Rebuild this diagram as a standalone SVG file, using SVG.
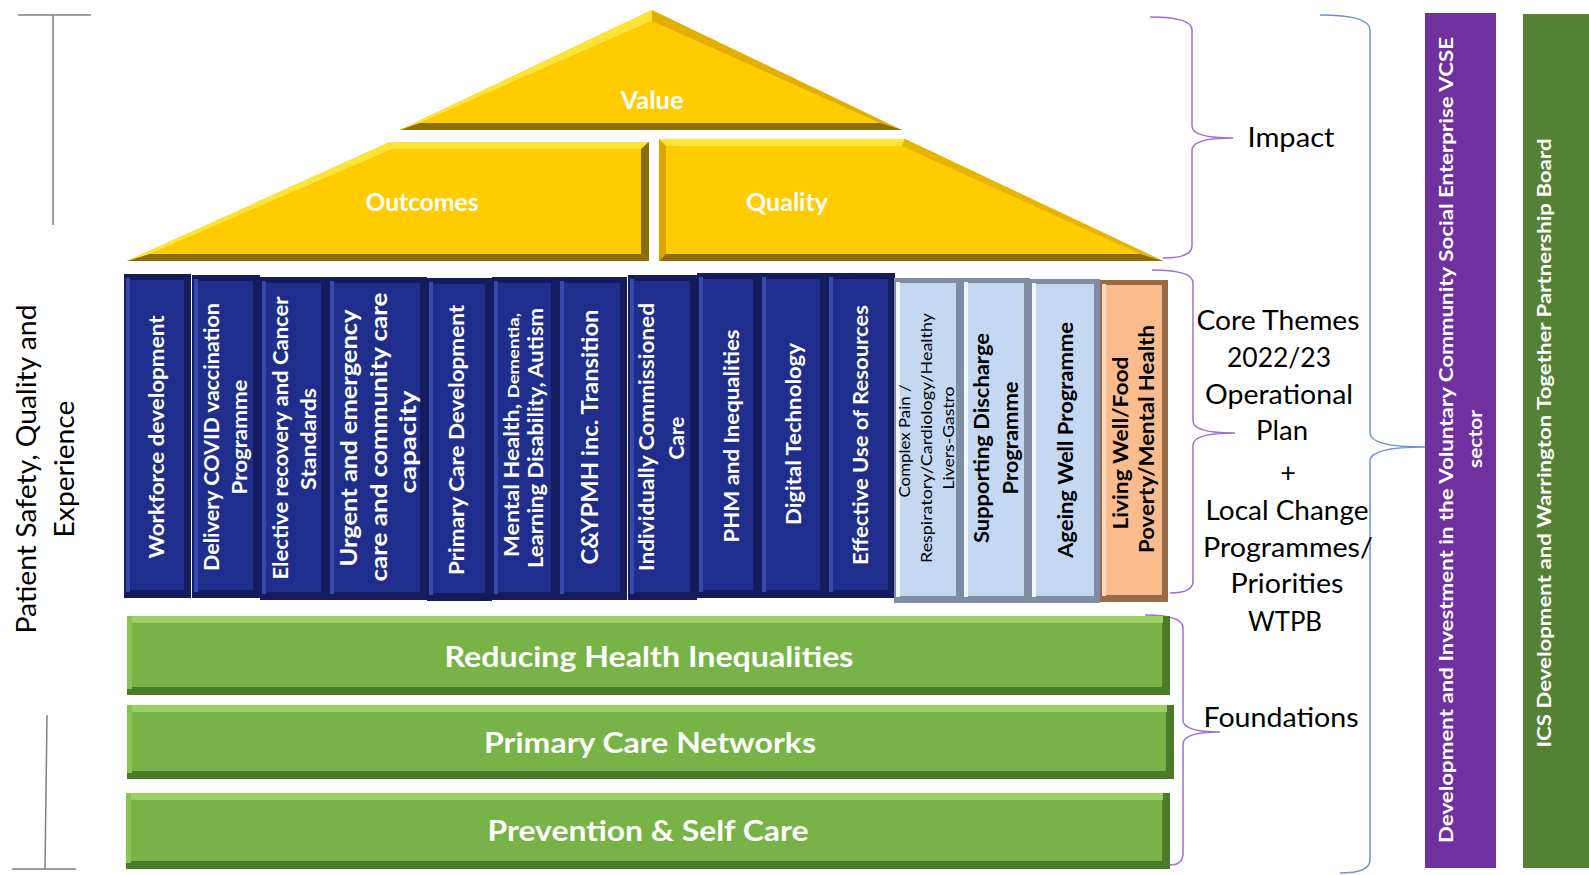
<svg xmlns="http://www.w3.org/2000/svg" width="1589" height="875" viewBox="0 0 1589 875">
<style>
.t{font-family:Lato,"Liberation Sans",sans-serif;text-anchor:middle}
.w{fill:#fff;font-weight:700}
.k{fill:#000;font-weight:700}
.r{fill:#000;font-weight:400}
.bE{fill:#141C5E}.bH{fill:#3748AE}.bF{fill:#1F2E8C}
.lE{fill:#7F8DA3}.lH{fill:#F2F7FD}.lF{fill:#C5D8F2}
.oE{fill:#9A6A47}.oH{fill:#FFDCC0}.oF{fill:#FABC8C}
.gE{fill:#4B7B28}.gT{fill:#9CCF64}.gL{fill:#8AC256}.gF{fill:#77B347}
.yL{fill:#FFE436}.yD{fill:#8C6C0C}.yG{fill:#E3AE00}.yF{fill:#FFCC00}
.br{fill:none;stroke:#A070D0;stroke-width:1.5}
.bb{fill:none;stroke:#6B92DC;stroke-width:1.5}
.ln{fill:none;stroke:#808080;stroke-width:1.5}
</style>

<g id="connectors">
<path class="ln" d="M18,15 H91 M53,15 V225"/>
<path class="ln" d="M47,715 L45,869 M12,869 H76"/>
<path class="br" d="M1150,17 Q1192,17 1192,30 V126 Q1192,138 1233,138 Q1192,138 1192,150 V246 Q1192,258 1163,258"/>
<path class="br" d="M1152,270 Q1193,270 1193,283 V421 Q1193,433 1235,433 Q1193,433 1193,445 V581 Q1193,593 1170,593"/>
<path class="br" d="M1145,615 Q1183,615 1183,628 V720 Q1183,732 1220,732 Q1183,732 1183,744 V853 Q1183,865 1170,865"/>
<path class="bb" d="M1320,15 Q1370,15 1370,30 V433 Q1370,447 1425,447 Q1370,447 1370,461 V860 Q1370,873 1340,873"/>
</g>

<g id="label-patient">
<text class="t r" font-size="27" transform="translate(36,469) rotate(-90)" textLength="329" lengthAdjust="spacingAndGlyphs">Patient Safety, Quality and</text>
<text class="t r" font-size="27" transform="translate(74,469) rotate(-90)" textLength="137" lengthAdjust="spacingAndGlyphs">Experience</text>
</g>

<g id="roof-value">
<polygon class="yG" points="652,10 902,130 400,130"/>
<polygon class="yL" points="400,130 652,10 652,21 420,123"/>
<polygon class="yD" points="400,130 420,123 880,123 902,130"/>
<polygon class="yF" points="652,21 880,123 420,123"/>
<text class="t w" font-size="24" x="652" y="109" textLength="63" lengthAdjust="spacingAndGlyphs">Value</text>
</g>

<g id="roof-outcomes">
<polygon class="yG" points="127,261 390,142 649,142 649,261"/>
<polygon class="yL" points="127,261 390,142 649,142 641,149 393,149 150,254"/>
<polygon class="yD" points="649,142 649,261 641,254 641,149"/>
<polygon class="yD" points="127,261 150,254 641,254 649,261"/>
<polygon class="yF" points="150,254 393,149 641,149 641,254"/>
<text class="t w" font-size="24" x="422" y="211" textLength="113" lengthAdjust="spacingAndGlyphs">Outcomes</text>
</g>

<g id="roof-quality">
<polygon class="yG" points="659,139 905,139 1163,261 659,261"/>
<polygon fill="#E0A400" points="659,139 666,146 666,254 659,261"/>
<polygon class="yL" points="659,139 905,139 902,146 666,146"/>
<polygon fill="#E8B400" points="905,139 1163,261 1140,254 902,146"/>
<polygon class="yD" points="659,261 666,254 1140,254 1163,261"/>
<polygon class="yF" points="666,146 902,146 1140,254 666,254"/>
<text class="t w" font-size="24" x="787" y="211" textLength="82" lengthAdjust="spacingAndGlyphs">Quality</text>
</g>

<g id="p1">
<rect class="bE" x="124" y="274" width="67" height="324"/><rect class="bH" x="126" y="278" width="4" height="314"/><rect class="bF" x="130" y="280" width="54" height="310"/>
<text class="t w" font-size="21" transform="translate(164,437) rotate(-90)" textLength="243" lengthAdjust="spacingAndGlyphs">Workforce development</text>
</g>
<g id="p2">
<rect class="bE" x="192" y="275" width="68" height="323"/><rect class="bH" x="194" y="279" width="4" height="313"/><rect class="bF" x="198" y="281" width="55" height="309"/>
<text class="t w" font-size="21" transform="translate(219,437) rotate(-90)" textLength="268" lengthAdjust="spacingAndGlyphs">Delivery COVID vaccination</text>
<text class="t w" font-size="21" transform="translate(247,437) rotate(-90)" textLength="115" lengthAdjust="spacingAndGlyphs">Programme</text>
</g>
<g id="p3">
<rect class="bE" x="260" y="277" width="68" height="323"/><rect class="bH" x="262" y="281" width="4" height="313"/><rect class="bF" x="266" y="283" width="55" height="309"/>
<text class="t w" font-size="21" transform="translate(288,438) rotate(-90)" textLength="283" lengthAdjust="spacingAndGlyphs">Elective recovery and Cancer</text>
<text class="t w" font-size="21" transform="translate(316,439) rotate(-90)" textLength="102" lengthAdjust="spacingAndGlyphs">Standards</text>
</g>
<g id="p4">
<rect class="bE" x="328" y="277" width="99" height="323"/><rect class="bH" x="330" y="281" width="4" height="313"/><rect class="bF" x="334" y="283" width="86" height="309"/>
<text class="t w" font-size="23" transform="translate(357,438) rotate(-90)" textLength="257" lengthAdjust="spacingAndGlyphs">Urgent and emergency</text>
<text class="t w" font-size="23" transform="translate(387,437) rotate(-90)" textLength="289" lengthAdjust="spacingAndGlyphs">care and community care</text>
<text class="t w" font-size="23" transform="translate(416,442) rotate(-90)" textLength="103" lengthAdjust="spacingAndGlyphs">capacity</text>
</g>
<g id="p5">
<rect class="bE" x="427" y="278" width="65" height="323"/><rect class="bH" x="429" y="282" width="4" height="313"/><rect class="bF" x="433" y="284" width="52" height="309"/>
<text class="t w" font-size="21" transform="translate(464,440) rotate(-90)" textLength="270" lengthAdjust="spacingAndGlyphs">Primary Care Development</text>
</g>
<g id="p6">
<rect class="bE" x="492" y="277" width="66" height="323"/><rect class="bH" x="494" y="281" width="4" height="313"/><rect class="bF" x="498" y="283" width="53" height="309"/>
<text class="t w" font-size="20" transform="translate(519,435) rotate(-90)" textLength="244" lengthAdjust="spacingAndGlyphs">Mental Health, <tspan font-size="16">Dementia,</tspan></text>
<text class="t w" font-size="20" transform="translate(543,438) rotate(-90)" textLength="260" lengthAdjust="spacingAndGlyphs">Learning Disability, Autism</text>
</g>
<g id="p7">
<rect class="bE" x="558" y="277" width="69" height="323"/><rect class="bH" x="560" y="281" width="4" height="313"/><rect class="bF" x="564" y="283" width="56" height="309"/>
<text class="t w" font-size="22" transform="translate(598,437) rotate(-90)" textLength="255" lengthAdjust="spacingAndGlyphs">C&amp;YPMH inc. Transition</text>
</g>
<g id="p8">
<rect class="bE" x="628" y="275" width="69" height="325"/><rect class="bH" x="630" y="279" width="4" height="315"/><rect class="bF" x="634" y="281" width="56" height="311"/>
<text class="t w" font-size="21" transform="translate(654,437) rotate(-90)" textLength="268" lengthAdjust="spacingAndGlyphs">Individually Commissioned</text>
<text class="t w" font-size="21" transform="translate(684,438) rotate(-90)" textLength="43" lengthAdjust="spacingAndGlyphs">Care</text>
</g>
<g id="p9">
<rect class="bE" x="697" y="273" width="63" height="325"/><rect class="bH" x="699" y="277" width="4" height="315"/><rect class="bF" x="703" y="279" width="50" height="311"/>
<text class="t w" font-size="21" transform="translate(739,436) rotate(-90)" textLength="213" lengthAdjust="spacingAndGlyphs">PHM and Inequalities</text>
</g>
<g id="p10">
<rect class="bE" x="760" y="273" width="67" height="325"/><rect class="bH" x="762" y="277" width="4" height="315"/><rect class="bF" x="766" y="279" width="54" height="311"/>
<text class="t w" font-size="21" transform="translate(801,434) rotate(-90)" textLength="182" lengthAdjust="spacingAndGlyphs">Digital Technology</text>
</g>
<g id="p11">
<rect class="bE" x="827" y="273" width="68" height="325"/><rect class="bH" x="829" y="277" width="4" height="315"/><rect class="bF" x="833" y="279" width="55" height="311"/>
<text class="t w" font-size="21" transform="translate(868,435) rotate(-90)" textLength="260" lengthAdjust="spacingAndGlyphs">Effective Use of Resources</text>
</g>
<g id="p12">
<rect class="lE" x="894" y="278" width="68" height="325"/><rect class="lH" x="896" y="282" width="4" height="315"/><rect class="lF" x="900" y="283" width="56" height="313"/>
<text class="t r" font-size="15" transform="translate(910,441) rotate(-90)" textLength="113" lengthAdjust="spacingAndGlyphs">Complex Pain /</text>
<text class="t r" font-size="15" transform="translate(932,438) rotate(-90)" textLength="250" lengthAdjust="spacingAndGlyphs">Respiratory/Cardiology/Healthy</text>
<text class="t r" font-size="15" transform="translate(954,438) rotate(-90)" textLength="103" lengthAdjust="spacingAndGlyphs">Livers-Gastro</text>
</g>
<g id="p13">
<rect class="lE" x="962" y="278" width="68" height="325"/><rect class="lH" x="964" y="282" width="4" height="315"/><rect class="lF" x="968" y="283" width="56" height="313"/>
<text class="t k" font-size="21" transform="translate(989,438) rotate(-90)" textLength="210" lengthAdjust="spacingAndGlyphs">Supporting Discharge</text>
<text class="t k" font-size="21" transform="translate(1018,438) rotate(-90)" textLength="113" lengthAdjust="spacingAndGlyphs">Programme</text>
</g>
<g id="p14">
<rect class="lE" x="1030" y="279" width="70" height="324"/><rect class="lH" x="1032" y="283" width="4" height="314"/><rect class="lF" x="1036" y="284" width="58" height="312"/>
<text class="t k" font-size="21" transform="translate(1073,440) rotate(-90)" textLength="236" lengthAdjust="spacingAndGlyphs">Ageing Well Programme</text>
</g>
<g id="p15">
<rect class="oE" x="1100" y="280" width="68" height="322"/><rect class="oH" x="1102" y="284" width="4" height="312"/><rect class="oF" x="1106" y="285" width="56" height="310"/>
<text class="t k" font-size="21" transform="translate(1128,443) rotate(-90)" textLength="173" lengthAdjust="spacingAndGlyphs">Living Well/Food</text>
<text class="t k" font-size="21" transform="translate(1154,439) rotate(-90)" textLength="228" lengthAdjust="spacingAndGlyphs">Poverty/Mental Health</text>
</g>

<g id="f1">
<rect class="gE" x="127" y="616" width="1043" height="79"/><rect class="gT" x="127" y="616" width="1036" height="7"/><rect class="gL" x="127" y="616" width="5" height="73"/><rect class="gF" x="132" y="623" width="1030" height="64"/>
<text class="t w" font-size="28" x="649" y="667" textLength="409" lengthAdjust="spacingAndGlyphs">Reducing Health Inequalities</text>
</g>
<g id="f2">
<rect class="gE" x="127" y="705" width="1047" height="74"/><rect class="gT" x="127" y="705" width="1040" height="7"/><rect class="gL" x="127" y="705" width="5" height="68"/><rect class="gF" x="132" y="712" width="1034" height="59"/>
<text class="t w" font-size="28" x="650" y="753" textLength="332" lengthAdjust="spacingAndGlyphs">Primary Care Networks</text>
</g>
<g id="f3">
<rect class="gE" x="126" y="793" width="1044" height="76"/><rect class="gT" x="126" y="793" width="1037" height="7"/><rect class="gL" x="126" y="793" width="5" height="70"/><rect class="gF" x="131" y="800" width="1031" height="61"/>
<text class="t w" font-size="28" x="648" y="841" textLength="321" lengthAdjust="spacingAndGlyphs">Prevention &amp; Self Care</text>
</g>

<g id="label-impact">
<text class="t r" font-size="27" x="1291" y="147" textLength="87" lengthAdjust="spacingAndGlyphs">Impact</text>
</g>
<g id="label-core">
<text class="t r" font-size="27" x="1278" y="330" textLength="163" lengthAdjust="spacingAndGlyphs">Core Themes</text>
<text class="t r" font-size="27" x="1279" y="367" textLength="104" lengthAdjust="spacingAndGlyphs">2022/23</text>
<text class="t r" font-size="27" x="1279" y="404" textLength="148" lengthAdjust="spacingAndGlyphs">Operational</text>
<text class="t r" font-size="27" x="1282" y="440" textLength="52" lengthAdjust="spacingAndGlyphs">Plan</text>
<text class="t r" font-size="27" x="1288" y="482">+</text>
<text class="t r" font-size="27" x="1287" y="520" textLength="163" lengthAdjust="spacingAndGlyphs">Local Change</text>
<text class="t r" font-size="27" x="1288" y="557" textLength="170" lengthAdjust="spacingAndGlyphs">Programmes/</text>
<text class="t r" font-size="27" x="1287" y="593" textLength="113" lengthAdjust="spacingAndGlyphs">Priorities</text>
<text class="t r" font-size="27" x="1285" y="631" textLength="74" lengthAdjust="spacingAndGlyphs">WTPB</text>
</g>
<g id="label-foundations">
<text class="t r" font-size="27" x="1281" y="727" textLength="155" lengthAdjust="spacingAndGlyphs">Foundations</text>
</g>

<g id="bar-vcse">
<rect fill="#7030A0" x="1425" y="13" width="71" height="855"/>
<text class="t w" font-size="19" transform="translate(1453,440) rotate(-90)" textLength="806" lengthAdjust="spacingAndGlyphs">Development and Investment in the Voluntary Community Social Enterprise VCSE</text>
<text class="t w" font-size="19" transform="translate(1482,439) rotate(-90)" textLength="58" lengthAdjust="spacingAndGlyphs">sector</text>
</g>
<g id="bar-ics">
<rect fill="#548235" x="1523" y="14" width="66" height="854"/>
<text class="t w" font-size="19" transform="translate(1551,443) rotate(-90)" textLength="609" lengthAdjust="spacingAndGlyphs">ICS Development and Warrington Together Partnership Board</text>
</g>
</svg>
